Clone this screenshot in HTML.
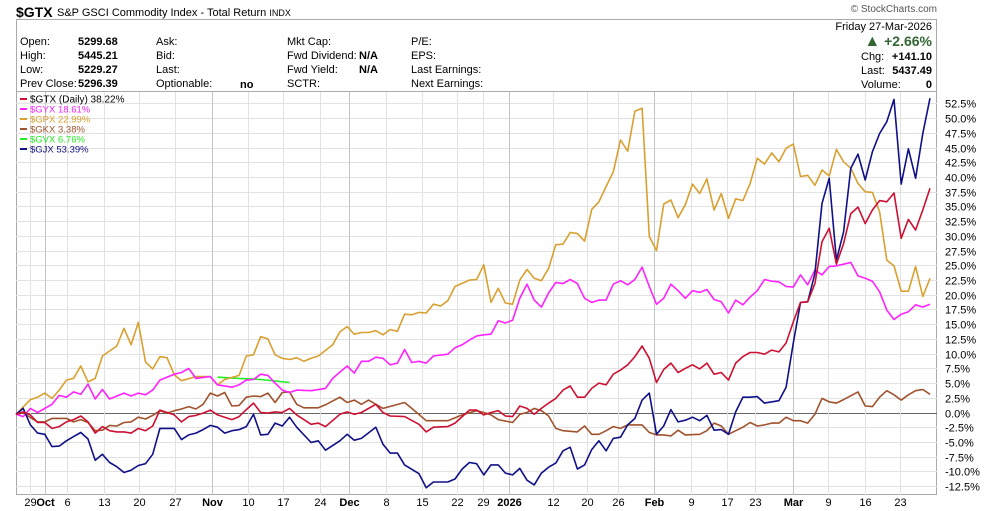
<!DOCTYPE html>
<html><head><meta charset="utf-8"><style>
body{margin:0;background:#fff;width:990px;height:511px;overflow:hidden;font-family:"Liberation Sans",Arial,sans-serif}
svg{display:block}
</style></head><body>
<svg id="chart" width="990" height="511" viewBox="0 0 990 511" xmlns="http://www.w3.org/2000/svg" font-family="Liberation Sans, Arial, sans-serif">
<g>
<text x="16" y="17" font-size="14" font-weight="bold">$GTX</text>
<text x="57" y="16" font-size="11">S&amp;P GSCI Commodity Index - Total Return <tspan font-size="9">INDX</tspan></text>
<text x="937" y="12" font-size="10" fill="#555" text-anchor="end">© StockCharts.com</text>
</g>
<rect x="16.5" y="19.5" width="920" height="475" fill="none" stroke="#aaa"/>
<line x1="16" y1="91.5" x2="937" y2="91.5" stroke="#aaa"/>
<g font-size="11">
<text x="20" y="45">Open:</text><text x="78" y="45" font-weight="bold">5299.68</text>
<text x="20" y="59">High:</text><text x="78" y="59" font-weight="bold">5445.21</text>
<text x="20" y="73">Low:</text><text x="78" y="73" font-weight="bold">5229.27</text>
<text x="20" y="87">Prev Close:</text><text x="78" y="87" font-weight="bold">5296.39</text>
<text x="156" y="45">Ask:</text><text x="156" y="59">Bid:</text><text x="156" y="73">Last:</text><text x="156" y="87">Optionable:</text>
<text x="240" y="88" font-weight="bold">no</text>
<text x="287" y="45">Mkt Cap:</text><text x="287" y="59">Fwd Dividend:</text><text x="287" y="73">Fwd Yield:</text><text x="287" y="87">SCTR:</text>
<text x="359" y="59" font-weight="bold">N/A</text><text x="359" y="73" font-weight="bold">N/A</text>
<text x="411" y="45">P/E:</text><text x="411" y="59">EPS:</text><text x="411" y="73">Last Earnings:</text><text x="411" y="87">Next Earnings:</text>
<text x="932" y="30" text-anchor="end">Friday  27-Mar-2026</text>
<text x="932" y="46" text-anchor="end" font-size="14" font-weight="bold" fill="#336633"><tspan font-size="16">▲</tspan> +2.66%</text>
<text x="861" y="60">Chg:</text><text x="932" y="60" text-anchor="end" font-weight="bold">+141.10</text>
<text x="861" y="74">Last:</text><text x="932" y="74" text-anchor="end" font-weight="bold">5437.49</text>
<text x="861" y="88">Volume:</text><text x="932" y="88" text-anchor="end" font-weight="bold">0</text>
</g>
<g id="grid"></g>
<g id="axes"></g>
<g id="series"></g>
<g id="legend"></g>
</svg>
<script>
const yTicks = [-12.5,-10,-7.5,-5,-2.5,0,2.5,5,7.5,10,12.5,15,17.5,20,22.5,25,27.5,30,32.5,35,37.5,40,42.5,45,47.5,50,52.5];
const xTickDays = [2,4,7.1,12.2,17.1,22.1,27.2,32.2,37.1,42.2,46.3,51.4,56.4,61.3,64.9,68.5,74.6,79.4,83.6,88.7,93.8,98.8,102.7,107.9,112.8,118,122.9];
const xTickLabels = ["29","Oct","6","13","20","27","Nov","10","17","24","Dec","8","15","22","29","2026","12","20","26","Feb","9","17","23","Mar","9","16","23"];
const xTickMajor = [0,1,0,0,0,0,1,0,0,0,1,0,0,0,0,1,0,0,0,1,0,0,0,1,0,0,0];

const gtxDays=[0,1,2,3,4,5,6,7,8,9,10,11,12,13,14,15,16,17,18,19,20,22,23,24,25,26,27,28,29,30,31,32,33,34,35,36,37,38,39,41,42,43,45,46,47,48,50,51,52,54,56,57,58,60,61,62,63,64,65,66,67,68,69,70,71,72,73,74,75,76,77,78,79,80,81,82,83,84,85,86,87,88,89,90,91,92,93,94,95,96,97,98,99,100,101,102,103,104,105,106,107,108,109,110,111,112,113,114,115,116,117,118,119,120,121,122,123,124,125,126,127];
const gtxVals=[-0.3,0.1,-0.4,-1.7,-1.7,-2.7,-2.4,-1.6,-1.2,-0.6,-1.6,-3.5,-2.4,-3.1,-3.3,-3.3,-3.5,-2.7,-3.1,-2.3,0.4,-0.4,-1.6,-0.7,-0.5,-0.1,0.4,-0.4,-0.8,-1.2,-0.7,0.5,1.6,0,-0.1,0.1,0,0.7,-0.4,-2.0,-1.8,-2.4,-0.3,0.1,-0.3,0,1.4,0,-0.6,-0.7,-2.0,-3.3,-2.5,-2.4,-1.8,-0.7,0.4,0.4,-0.4,0,0.3,-0.6,-0.7,1.1,0.7,-0.3,0.7,1.6,2.4,3.8,4.5,2.6,2.6,4.1,5.0,4.7,6.5,7.2,8.1,9.5,11.3,9.2,5.1,7.3,8.4,6.8,7.5,8.1,7.4,8.4,6.5,6.8,5.5,8.4,9.5,10.2,10.2,9.9,10.6,10.3,11.8,15.4,18.7,18.8,21.9,29.0,31.3,25.2,28.7,33.8,34.9,32.1,34.4,36.0,35.8,37.3,29.6,32.8,31.0,34.4,38.1];

const gyxDays=[0,1,2,3,5,6,7,8,9,10,11,12,13,15,16,17,18,19,20,22,23,24,25,27,28,30,31,32,33,34,35,36,37,38,39,41,43,44,46,47,48,49,50,51,52,53,54,55,56,57,58,60,61,62,63,64,65,66,67,68,69,70,71,72,73,74,75,76,77,78,79,80,81,82,83,84,85,86,87,88,89,90,91,92,93,94,95,96,97,98,99,100,101,102,103,104,105,106,107,108,109,110,111,112,113,114,115,116,117,118,119,120,121,122,123,124,125,126,127];
const gyxVals=[-0.3,-0.7,0.7,0,1.4,2.9,2.6,3.5,3.1,4.8,2.3,3.9,2.3,3.3,2.8,3.3,3.0,3.8,5.5,6.5,6.8,7.5,5.8,6.1,4.7,4.3,4.7,5.5,5.6,6.5,6.3,5.0,3.8,3.4,3.8,3.7,4.1,5.8,7.9,6.7,8.7,8.7,9.4,9.2,8.1,8.4,10.7,8.5,8.7,8.4,9.6,9.9,11.0,11.5,12.3,13.0,13.2,13.3,15.6,15.2,15.7,19.4,21.8,19.1,17.9,20.3,22.1,21.9,22.6,21.9,19.4,18.7,19.1,19.1,21.8,22.4,21.7,22.6,24.7,21.4,18.4,19.4,21.8,20.7,19.4,20.7,20.4,20.9,19.2,18.8,16.9,19.1,18.3,19.6,20.7,22.6,22.3,22.2,21.4,21.3,23.4,21.7,24.2,23.4,24.8,24.9,25.2,25.5,23.2,22.8,22.3,20.5,17.4,15.8,16.7,17.1,18.3,17.9,18.4];

const gpxDays=[0,2,3,4,5,6,7,8,9,10,11,12,14,15,16,17,18,19,20,21,22,23,25,27,28,29,31,32,33,34,35,36,37,38,39,40,41,42,44,45,46,47,48,49,50,51,52,53,54,55,56,57,58,59,60,61,63,64,65,66,67,68,69,70,71,72,73,74,75,76,77,78,79,80,81,82,83,84,85,86,87,88,89,90,91,92,93,94,95,96,97,98,99,100,101,102,103,104,105,106,107,108,109,110,111,112,113,114,115,116,117,118,119,120,121,122,123,124,125,126,127];
const gpxVals=[-0.3,2.2,2.6,3.3,2.4,3.8,5.5,5.8,7.9,5.2,5.8,9.6,11.3,14.3,11.5,15.3,8.6,7.4,9.5,9.3,6.4,5.4,6.1,6.1,4.7,5.6,6.3,9.6,9.8,12.9,12.5,9.8,9.2,9.0,9.3,8.7,9.2,9.6,11.5,13.7,14.6,13.3,13.6,13.6,13.9,13.2,14.1,13.8,16.7,16.6,17.0,16.9,18.4,18.1,19.0,21.4,22.5,22.6,25.1,18.7,21.1,18.6,18.4,22.5,24.3,22.8,22.4,24.5,28.5,28.6,30.6,30.4,29.1,34.5,35.8,38.4,40.9,46.3,44.4,51.2,51.7,29.9,27.5,35.4,36.1,33.1,35.3,38.8,37.2,39.7,34.4,37.2,33.0,36.3,36.0,38.9,43.2,42.2,44.1,42.6,44.9,45.6,40.1,40.3,38.6,41.2,40.2,44.7,42.6,41.5,38.9,37.5,37.4,34.1,25.9,24.9,20.6,20.6,24.8,19.7,22.8];

const gkxDays=[0,1,3,4,5,7,8,9,10,11,12,13,14,15,16,17,18,19,20,21,22,23,24,25,26,27,28,29,30,31,32,33,34,35,36,37,38,39,40,42,43,45,46,47,48,49,50,51,54,55,57,60,62,64,65,66,67,69,70,71,72,73,74,75,76,78,79,80,81,82,83,84,85,87,88,89,90,91,92,93,95,96,97,98,99,100,101,102,103,104,105,106,107,108,109,110,111,112,113,114,115,117,118,119,120,121,122,123,124,125,126,127];
const gkxVals=[-0.3,-0.1,-1.6,-1.6,-1.0,-1.0,-1.6,-1.2,-1.7,-3.1,-3.0,-2.2,-2.3,-1.7,-1.6,-0.8,-1.1,-0.5,0.3,-0.1,0.3,0.6,1.0,0.6,1.4,3.3,2.8,3.4,1.1,1.2,2.6,2.8,2.7,3.3,1.7,3.4,3.5,1.4,0.8,0.8,1.3,2.6,1.7,2.1,1.4,2.1,1.4,0.7,1.7,0.7,-1.4,-1.4,-0.4,0.3,0,-0.4,-1.2,-1.7,-0.3,0,0.7,0.3,-0.6,-2.7,-3.1,-3.3,-2.3,-3.7,-3.7,-3.1,-2.4,-2.7,-2.1,-2.1,-3.4,-3.8,-3.8,-4.0,-3.0,-3.8,-3.7,-3.1,-1.8,-2.3,-3.7,-3.1,-2.5,-1.7,-2.3,-2.1,-1.8,-1.8,-0.8,-1.4,-1.4,-1.8,-0.3,2.4,1.8,1.6,2.2,3.5,1.1,1.0,2.6,3.7,3.0,2.1,3.0,3.7,3.9,3.1];

const gvxDays=[28,31,34,38];
const gvxVals=[6.0,5.8,5.6,5.1];

const gjxDays=[0,1,2,3,4,5,6,7,8,9,10,11,12,13,14,15,16,17,18,19,20,22,23,24,25,26,27,28,29,30,31,32,33,34,35,36,37,38,39,41,42,43,45,46,47,48,50,51,52,53,54,56,57,58,60,61,62,63,64,65,66,67,68,69,70,71,72,73,74,75,76,77,78,79,80,81,82,83,84,85,86,87,88,89,90,91,92,93,94,95,96,97,98,99,100,101,102,103,104,106,107,108,109,110,111,112,113,114,115,116,117,118,119,120,121,122,123,124,125,126,127];
const gjxVals=[-0.3,0.7,-2.1,-3.5,-3.7,-5.8,-5.7,-4.8,-4.1,-3.4,-4.5,-8.1,-7.1,-8.5,-9.2,-10.2,-9.8,-9.0,-8.7,-7.1,-2.7,-2.7,-4.6,-3.8,-3.5,-2.9,-2.2,-2.5,-3.5,-3.1,-2.9,-2.4,-0.3,-3.8,-3.7,-1.8,-2.3,-0.8,-2.5,-5.1,-4.8,-6.4,-4.8,-3.7,-4.7,-4.4,-2.5,-5.4,-6.9,-6.9,-8.9,-10.4,-12.8,-11.8,-11.8,-11.3,-9.6,-8.5,-8.7,-10.6,-8.9,-8.9,-10.3,-10.6,-9.5,-11.5,-12.3,-10.3,-9.3,-8.6,-6.5,-5.9,-9.6,-8.9,-6.3,-4.8,-6.5,-4.4,-4.2,-2.1,-1.0,2.1,3.3,-3.7,-2.3,0.5,-1.6,-1.3,-0.8,-1.4,-0.5,-3.0,-2.9,-3.7,0.1,2.6,2.6,2.7,1.6,2.0,4.3,11.8,18.7,18.8,23.6,35.5,39.8,25.9,30.7,41.5,43.9,39.5,44.3,47.4,49.4,53.2,38.8,44.8,39.8,47.4,53.4];

const legendNames=["$GTX (Daily) 38.22%","$GYX 18.61%","$GPX 22.99%","$GKX 3.38%","$GVX 6.76%","$GJX 53.39%"];
const legendColors=["#cc1133","#ff22ff","#d9a030","#a0522d","#22ee22","#101088"];

const NS="http://www.w3.org/2000/svg";
const plotL=16, plotR=937, plotT=92, plotB=495;
function xS(d){return 16 + d*(914/127);}
function yS(v){return 412.5 - v*5.886;}
function mk(tag,attrs,parent){const e=document.createElementNS(NS,tag);for(const k in attrs)e.setAttribute(k,attrs[k]);parent.appendChild(e);return e;}
const grid=document.getElementById('grid'), axes=document.getElementById('axes'), ser=document.getElementById('series'), leg=document.getElementById('legend');

yTicks.forEach(v=>{
  const y=Math.round(yS(v))+0.5;
  const l=mk('line',{x1:plotL,x2:plotR,y1:y,y2:y,stroke:v===0?'#666':'#e2e2e2','stroke-width':1},grid);
  
  
  const t=mk('text',{x:945,y:y+4,'font-size':11},axes);
  
  
  t.textContent=v.toFixed(1)+'%';
});
xTickDays.forEach((d,i)=>{
  const x=Math.round(xS(d))+0.5;
  const l=mk('line',{x1:x,x2:x,y1:plotT,y2:plotB,stroke:xTickMajor[i]?'#c4c4c4':'#e2e2e2','stroke-width':1},grid);
  
  
  const t=mk('text',{x:x,y:506,'font-size':11,'text-anchor':'middle','font-weight':xTickMajor[i]?'bold':'normal'},axes);
  
  
  t.textContent=xTickLabels[i];
});

const seriesList=[
 ['gkx-line',gkxDays,gkxVals,legendColors[3]],
 ['gvx-line',gvxDays,gvxVals,legendColors[4]],
 ['gpx-line',gpxDays,gpxVals,legendColors[2]],
 ['gyx-line',gyxDays,gyxVals,legendColors[1]],
 ['gjx-line',gjxDays,gjxVals,legendColors[5]],
 ['gtx-line',gtxDays,gtxVals,legendColors[0]]
];
seriesList.forEach(s=>{
  const pts=s[1].map((d,i)=>xS(d).toFixed(1)+','+yS(s[2][i]).toFixed(1)).join(' ');
  const p=mk('polyline',{points:pts,fill:'none',stroke:s[3],'stroke-width':1.6,'stroke-linejoin':'round'},ser);
  
  
});

legendNames.forEach((n,i)=>{
  const y=99+i*10;
  const g=mk('g',{},leg);
  
  
  mk('rect',{x:20,y:y-1,width:7,height:2,fill:legendColors[i]},g);
  const t=mk('text',{x:30,y:y+3.5,'font-size':i===0?10:9.5,fill:i===0?'#000':legendColors[i]},g);
  t.textContent=n;
});
</script>
</body></html>
